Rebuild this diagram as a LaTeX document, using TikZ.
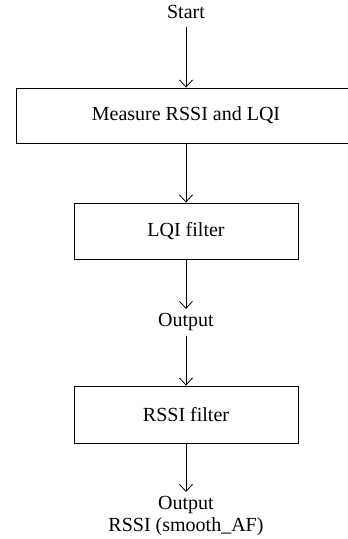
\documentclass[tikz,border=0pt]{standalone}
\usepackage{fontspec}
\setmainfont{Liberation Serif}
\usetikzlibrary{arrows.meta}

\begin{document}
\begin{tikzpicture}[x=1pt,y=1pt,
    font=\fontsize{20}{22}\selectfont,
    stepbox/.style={draw,line width=0.9pt,inner sep=0pt,minimum height=56pt},
    label text/.style={inner sep=4pt,text height=13.8pt,text depth=4.4pt},
    flow/.style={line width=0.8pt,-{Straight Barb[length=7pt,width=13pt,line width=0.8pt]}}]
    \useasboundingbox (0,0) rectangle (348,-539);
    \clip (0,0) rectangle (348,-539);
    \node[label text] (start) at (186,-13.3) {Start};
    \node[stepbox,minimum width=340pt,minimum height=55pt] (measure) at (186,-115.5) {Measure RSSI and LQI};
    \node[stepbox,minimum width=224pt] (lqi) at (186,-231) {LQI filter};
    \node[label text] (out1) at (186,-322.2) {Output};
    \node[stepbox,minimum width=224pt,minimum height=57pt] (rssi) at (186,-414.5) {RSSI filter};
    \node[inner sep=4pt,anchor=north,align=center] (out2) at (186,-492) {Output\\RSSI (smooth\_AF)};
    \draw[flow] (start) -- (measure);
    \draw[flow] (measure) -- (lqi);
    \draw[flow] (lqi) -- (out1);
    \draw[flow] (out1) -- (rssi);
    \draw[flow] (rssi) -- (out2);
\end{tikzpicture}
\end{document}
